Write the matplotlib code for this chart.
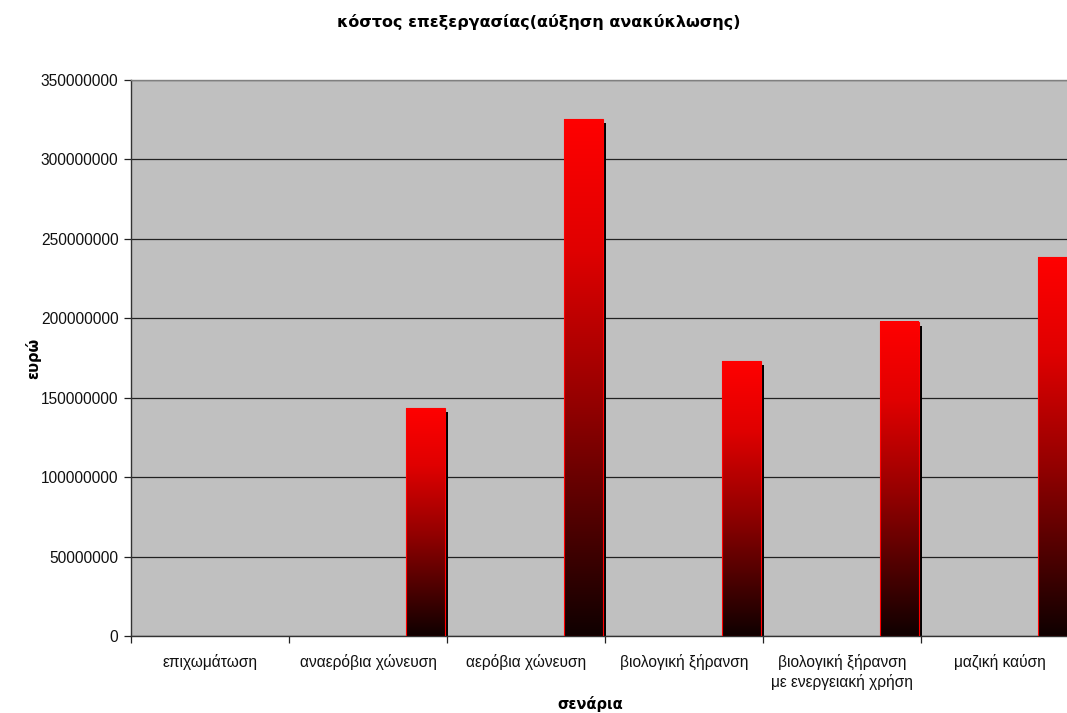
import numpy as np
import matplotlib
matplotlib.use('Agg')
import matplotlib.pyplot as plt
from matplotlib.colors import LinearSegmentedColormap
from matplotlib.patches import Rectangle

plt.rcParams['font.family'] = ['Liberation Sans', 'DejaVu Sans']

# Processing cost per scenario (euro)
scenarios = ['επιχωμάτωση', 'αναερόβια χώνευση', 'αερόβια χώνευση',
             'βιολογική ξήρανση', 'βιολογική ξήρανση\nμε ενεργειακή χρήση',
             'μαζική καύση']
costs = [0, 143500000, 325400000, 173000000, 197700000, 238500000]

title = 'κόστος επεξεργασίας(αύξηση ανακύκλωσης)'
x_label = 'σενάρια'
y_label = 'ευρώ'

fig = plt.figure(figsize=(10.67, 7.13), dpi=100)
ax = fig.add_axes([131 / 1067, 1 - 636 / 713, 948 / 1067, 556 / 713])
ax.set_facecolor('#c0c0c0')

# red-to-black fade used for every bar
fade = LinearSegmentedColormap.from_list(
    'fade', [(0.0, (0.06, 0.0, 0.0)), (0.45, (0.58, 0.0, 0.0)),
             (0.75, (0.88, 0.0, 0.0)), (1.0, (1.0, 0.0, 0.0))])
grad = np.linspace(0, 1, 256).reshape(-1, 1)

bar_w = 0.245
px_x = 1 / 158
px_y = 350000000 / 556
for i, val in enumerate(costs):
    if val <= 0:
        continue
    x0 = i + 0.488 - bar_w
    # drop shadow on the right side
    ax.add_patch(Rectangle((x0 + 3 * px_x, 0), bar_w, val - 4 * px_y,
                           facecolor='black', edgecolor='none', zorder=2))
    ax.imshow(grad, cmap=fade, origin='lower', aspect='auto',
              extent=(x0, x0 + bar_w, 0, val), zorder=3, interpolation='bilinear')
    ax.add_patch(Rectangle((x0, 0), bar_w, val, facecolor='none',
                           edgecolor='#ff0000', linewidth=0.8, zorder=4))

ax.set_xlim(-0.5, 5.5)
ax.set_ylim(0, 350000000)

ax.set_yticks(np.arange(0, 350000001, 50000000))
ax.set_yticklabels([str(v) for v in range(0, 350000001, 50000000)])
ax.yaxis.grid(True, color='#222222', linewidth=0.9)
ax.set_axisbelow(True)

ax.set_xticks(np.arange(-0.5, 5.6, 1.0))
ax.set_xticklabels([])
ax.set_xticks(np.arange(0, 6), minor=True)
ax.set_xticklabels(scenarios, minor=True, fontsize=11.2, color='#111111',
                   linespacing=1.3, va='top')
ax.tick_params(axis='x', which='minor', length=0, pad=13)
ax.tick_params(axis='x', which='major', length=5, width=0.9, color='#222222')
ax.tick_params(axis='y', length=5, width=0.9, color='#222222',
               labelsize=11.2, labelcolor='#111111', pad=4)

for side in ['left', 'bottom']:
    ax.spines[side].set_color('#333333')
    ax.spines[side].set_linewidth(1.0)
for side in ['top', 'right']:
    ax.spines[side].set_color('#808080')
    ax.spines[side].set_linewidth(1.0)

fig.text(539 / 1067, 1 - 22 / 713, title, ha='center', va='center',
         fontsize=11.5, fontweight='bold', family='DejaVu Sans')
fig.text(590 / 1067, 1 - 704 / 713, x_label, ha='center', va='center',
         fontsize=10.5, fontweight='bold', family='DejaVu Sans')
fig.text(33 / 1067, 1 - 358 / 713, y_label, ha='center', va='center',
         fontsize=10.5, fontweight='bold', rotation=90, family='DejaVu Sans')

fig.savefig('out.png', dpi=100)
